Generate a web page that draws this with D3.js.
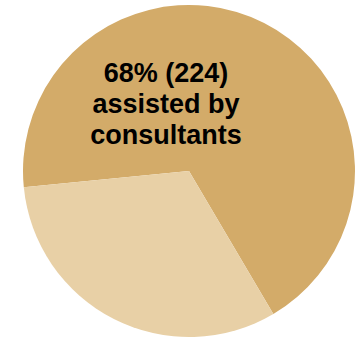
<!DOCTYPE html>
<html>
<head>
<meta charset="utf-8">
<script src="https://cdn.jsdelivr.net/npm/d3@7"></script>
<style>
  html, body { margin: 0; padding: 0; background: #fff; }
  svg { display: block; }
</style>
</head>
<body>
<svg id="chart" width="362" height="339"></svg>
<script>
// données du camembert
var categories = ["assisted by consultants", "other"];
var counts = [224, 105];
var colors = ["#d3ab69", "#e8d0a6"];
var labelLines = ["68% (224)", "assisted by", "consultants"];

var width = 362, height = 339;
var cx = 189, cy = 171, radius = 166;

var svg = d3.select("#chart");
var g = svg.append("g").attr("transform", `translate(${cx}, ${cy})`);

var start = 264.35 * Math.PI / 180;
var pie = d3.pie().sort(null).startAngle(start).endAngle(start + 2 * Math.PI);
var arc = d3.arc().innerRadius(0).outerRadius(radius);

g.selectAll("path")
    .data(pie(counts))
    .enter()
    .append("path")
    .attr("d", arc)
    .style("fill", (d, i) => colors[i]);

// étiquette du grand secteur
var label = svg.append("text")
    .attr("x", 166)
    .attr("y", 82)
    .style("text-anchor", "middle")
    .style("font-family", "'Liberation Sans', Arial, sans-serif")
    .style("font-weight", "bold")
    .style("font-size", "27px")
    .style("fill", "#000");

label.selectAll("tspan")
    .data(labelLines)
    .enter()
    .append("tspan")
    .attr("x", 166)
    .attr("dy", (d, i) => i === 0 ? 0 : 31)
    .text(d => d);
</script>
</body>
</html>
